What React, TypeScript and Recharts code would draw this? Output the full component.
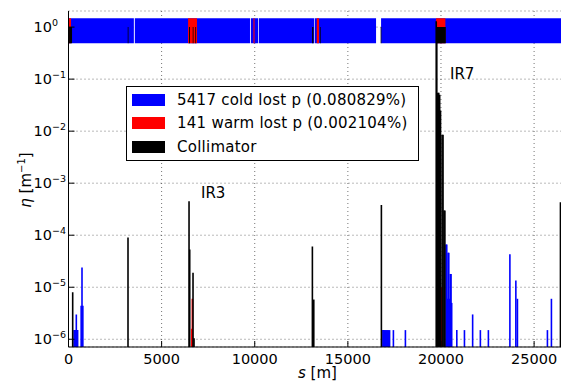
import React from 'react';
import {
  ComposedChart, XAxis, YAxis, CartesianGrid, ReferenceArea, ReferenceLine,
} from 'recharts';

// ─── Data ────────────────────────────────────────────────────────────────────
const RING_LENGTH = 26659;
const ETA_MIN = 7.1e-7;
const ETA_MAX = 2.04;

const xTicks = [0, 5000, 10000, 15000, 20000, 25000];
const yTicks = [1e-6, 1e-5, 1e-4, 1e-3, 1e-2, 1e-1, 1];

// aperture band at the top: [s start, s end]
const BAND_LOW = 0.49;
const BAND_HIGH = 1.48;
const COLL_MARK_HIGH = 1.0;
const coldBand: [number, number][] = [
  [0, 3510], [3560, 9745], [9790, 10175], [10215, 13185], [13220, 16514], [16783, 26659],
];
const warmBand: [number, number][] = [
  [0, 135], [6420, 6900], [9930, 9990], [13330, 13450], [19737, 20236],
];
const collBand: [number, number][] = [
  [30, 190], [3180, 3220], [6470, 6520], [6670, 6710], [6810, 6850],
  [13080, 13150], [13500, 13540], [16760, 16800], [19737, 20260],
];

// loss spikes: [s, eta]
const coldLoss: [number, number][] = [
  [300, 1.5e-6], [340, 1.5e-6], [380, 1.5e-6], [420, 3e-6], [460, 1.5e-6], [490, 1.5e-6],
  [680, 4.4e-6], [725, 2.4e-5], [770, 4.4e-6],
  [16880, 1.5e-6], [16930, 1.5e-6], [16980, 1.5e-6], [17030, 1.5e-6], [17080, 1.5e-6],
  [17130, 1.5e-6], [17180, 1.5e-6], [17240, 1.5e-6],
  [17445, 1.5e-6], [18090, 1.5e-6],
  [20270, 6.6e-5], [20310, 6.6e-5], [20345, 6e-6], [20385, 4.6e-5], [20420, 4.6e-5],
  [20460, 6e-6], [20500, 1.8e-5], [20540, 1.8e-5], [20575, 5e-6],
  [20850, 1.5e-6], [21260, 1.5e-6], [21700, 3e-6], [22115, 1.5e-6], [22545, 1.5e-6],
  [23700, 4.3e-5], [24020, 1.35e-5], [24105, 6e-6], [25715, 1.5e-6], [25930, 6e-6],
];
const warmLoss: [number, number][] = [
  [6617, 1.6e-6], [6649, 6e-6], [20021, 1e-5],
];
const collLoss: [number, number][] = [
  [225, 8e-6], [3195, 9e-5], [6472, 4.5e-4], [6509, 5.3e-5], [6686, 1.9e-5], [6740, 1.05e-6],
  [13095, 6.1e-5], [13170, 5.8e-6], [16800, 3.8e-4],
  [19745, 1.3], [19775, 0.9], [19830, 0.055], [19880, 0.055], [19930, 0.05], [19975, 0.025],
  [20060, 0.0085], [20110, 0.0085], [20165, 3e-4], [20210, 3e-4],
  [26415, 4.3e-4],
];

const legendItems = [
  { label: '5417 cold lost p (0.080829%)', color: '#0000ff' },
  { label: '141 warm lost p (0.002104%)', color: '#ff0000' },
  { label: 'Collimator', color: '#000000' },
];

// ─── Styles ──────────────────────────────────────────────────────────────────
const FONT = '"DejaVu Sans", sans-serif';
const W = 580;
const H = 382;

const YTick = ({ x, y, payload }: any) => {
  const exp = Math.round(Math.log10(payload.value));
  const sup = exp < 0 ? `\u2212${-exp}` : `${exp}`;
  return (
    <g>
      <line x1={x + 8} x2={x + 14} y1={y} y2={y} stroke="#000" />
      <text x={x - 27} y={y + 5} fontFamily={FONT} fontSize={14.5} fill="#000">
        10<tspan dy={-6} fontSize={9.5}>{sup}</tspan>
      </text>
    </g>
  );
};

const XTick = ({ x, y, payload }: any) => (
  <g>
    <line x1={x} x2={x} y1={y - 8} y2={y - 14} stroke="#000" />
    <text x={x} y={y + 9} textAnchor="middle" fontFamily={FONT} fontSize={14.5} fill="#000">
      {payload.value}
    </text>
  </g>
);

const TopTick = ({ x, y }: any) => (
  <line x1={x} x2={x} y1={y + 8} y2={y + 14} stroke="#000" />
);

const spike = (s: number, eta: number, color: string, key: string) => (
  <ReferenceLine
    key={key}
    segment={[{ x: s, y: ETA_MIN }, { x: s, y: eta }]}
    stroke={color}
    strokeWidth={1.6}
    ifOverflow="hidden"
  />
);

const band = (r: [number, number], lo: number, hi: number, color: string, key: string) => (
  <ReferenceArea
    key={key}
    x1={r[0]}
    x2={r[1]}
    y1={lo}
    y2={hi}
    fill={color}
    fillOpacity={1}
    stroke="none"
    ifOverflow="hidden"
  />
);

export default function App() {
  return (
    <div style={{ position: 'absolute', left: 0, top: 0, width: 561, height: 382, overflow: 'hidden', background: '#fff' }}>
      <ComposedChart width={W} height={H} margin={{ top: 11, right: 15, left: 0, bottom: 5 }}>
        <XAxis
          type="number"
          dataKey="s"
          domain={[0, RING_LENGTH]}
          ticks={xTicks}
          tick={<XTick />}
          tickLine={false}
          axisLine={{ stroke: '#000' }}
          height={30}
          allowDataOverflow
        />
        <XAxis
          xAxisId="top"
          orientation="top"
          type="number"
          domain={[0, RING_LENGTH]}
          ticks={xTicks}
          tick={<TopTick />}
          tickLine={false}
          axisLine={{ stroke: '#000' }}
          height={0}
          allowDataOverflow
        />
        <YAxis
          type="number"
          scale="log"
          domain={[ETA_MIN, ETA_MAX]}
          ticks={yTicks}
          tick={<YTick />}
          tickLine={false}
          axisLine={{ stroke: '#000' }}
          width={68.5}
          allowDataOverflow
        />

        {coldBand.map((r, i) => band(r, BAND_LOW, BAND_HIGH, '#0000ff', `cb${i}`))}
        {warmBand.map((r, i) => band(r, BAND_LOW, BAND_HIGH, '#ff0000', `wb${i}`))}
        {collBand.map((r, i) => band(r, BAND_LOW, COLL_MARK_HIGH, '#000000', `kb${i}`))}

        {coldLoss.map(([s, e], i) => spike(s, e, '#0000ff', `c${i}`))}
        {warmLoss.map(([s, e], i) => spike(s, e, '#ff0000', `w${i}`))}
        {collLoss.map(([s, e], i) => spike(s, e, '#000000', `k${i}`))}

        <CartesianGrid stroke="#000" strokeOpacity={0.55} strokeDasharray="1 3" />
      </ComposedChart>

      {/* annotations */}
      <div style={{ position: 'absolute', left: 201, top: 184, font: `15px ${FONT}` }}>IR3</div>
      <div style={{ position: 'absolute', left: 450, top: 65, font: `15px ${FONT}` }}>IR7</div>
      <div style={{ position: 'absolute', left: 298, top: 364, font: `15px ${FONT}` }}>
        <i>s</i> [m]
      </div>
      <div
        style={{
          position: 'absolute', left: 25, top: 180, font: `15px ${FONT}`, whiteSpace: 'nowrap',
          transform: 'translate(-50%, -50%) rotate(-90deg)',
        }}
      >
        <i>η</i> [m<sup style={{ fontSize: 10 }}>−1</sup>]
      </div>

      {/* legend */}
      <div
        style={{
          position: 'absolute', left: 126, top: 86, width: 291, height: 73,
          border: '1px solid #000', background: '#fff', font: `15px ${FONT}`,
        }}
      >
        {legendItems.map((it, i) => (
          <div key={i} style={{ position: 'absolute', left: 5, top: 6 + i * 23.5, height: 13, display: 'flex', alignItems: 'center' }}>
            <span style={{ display: 'inline-block', width: 33, height: 12, background: it.color }} />
            <span style={{ marginLeft: 12, letterSpacing: 0.25, whiteSpace: 'nowrap' }}>{it.label}</span>
          </div>
        ))}
      </div>
    </div>
  );
}
